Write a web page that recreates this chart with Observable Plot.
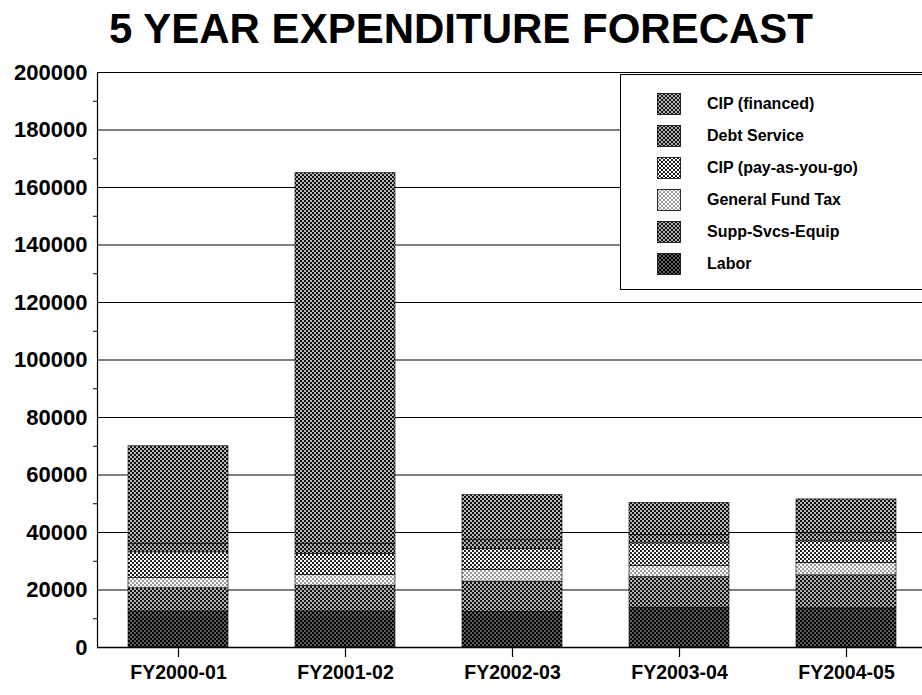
<!DOCTYPE html>
<html>
<head>
<meta charset="utf-8">
<script src="https://cdn.jsdelivr.net/npm/d3@7"></script>
<script src="https://cdn.jsdelivr.net/npm/@observablehq/plot@0.6"></script>
<style>
  html, body { margin: 0; padding: 0; background: #fff; }
  body { width: 922px; height: 695px; position: relative; overflow: hidden; font-family: "Liberation Sans", Arial, sans-serif; }
  #title { height: 58px; box-sizing: border-box; padding-top: 8px; font-size: 42px; line-height: 42px; font-weight: bold; text-align: center; color: #000; }
  #legend { position: absolute; left: 620px; top: 74px; width: 320px; height: 216px; box-sizing: border-box; border: 1.3px solid #000; background: #fff; }
  .item { position: absolute; left: 36px; height: 24px; display: flex; align-items: center; font-size: 16px; font-weight: bold; color: #000; }
  .item svg { margin-right: 26px; }
</style>
</head>
<body>
<div id="title">5 YEAR EXPENDITURE FORECAST</div>
<div id="chart"></div>
<div id="legend"></div>
<script>
const years = ["FY2000-01", "FY2001-02", "FY2002-03", "FY2003-04", "FY2004-05"];
const labor = [12500, 12500, 12400, 13800, 13600];
const suppSvcsEquip = [8100, 9000, 10500, 10700, 11500];
const generalFundTax = [3600, 3800, 4100, 3900, 4300];
const cipPayGo = [8900, 7300, 7300, 7800, 7500];
const debtService = [3000, 3500, 3000, 3000, 3000];
const cipFinanced = [33900, 128900, 15700, 11100, 11600];
const seriesNames = ["Labor", "Supp-Svcs-Equip", "General Fund Tax", "CIP (pay-as-you-go)", "Debt Service", "CIP (financed)"];
const legendOrder = ["CIP (financed)", "Debt Service", "CIP (pay-as-you-go)", "General Fund Tax", "Supp-Svcs-Equip", "Labor"];
const yTicks = [0, 20000, 40000, 60000, 80000, 100000, 120000, 140000, 160000, 180000, 200000];
const yMinorTicks = [10000, 30000, 50000, 70000, 90000, 110000, 130000, 150000, 170000, 190000];

const seriesValues = [labor, suppSvcsEquip, generalFundTax, cipPayGo, debtService, cipFinanced];
const rows = [];
seriesNames.forEach((s, i) => years.forEach((y, j) => rows.push({year: y, series: s, value: seriesValues[i][j]})));

// pattern definitions (dithered look)
const patterns = {
  "Labor": {id: "pLabor", bg: "#000", fg: "#fff", r: 0.7},
  "Supp-Svcs-Equip": {id: "pSupp", bg: "#111", fg: "#fff", r: 0.9},
  "General Fund Tax": {id: "pGft", bg: "#fff", fg: "#000", r: 0.75},
  "CIP (pay-as-you-go)": {id: "pPay", bg: "#fff", fg: "#000", r: 1.1},
  "Debt Service": {id: "pDebt", bg: "#111", fg: "#fff", r: 0.9},
  "CIP (financed)": {id: "pFin", bg: "#111", fg: "#fff", r: 0.95}
};
function defsMarkup() {
  return Object.values(patterns).map(p =>
    `<pattern id="${p.id}" width="4" height="4" patternUnits="userSpaceOnUse">` +
    `<rect width="4" height="4" fill="${p.bg}"/>` +
    `<circle cx="1" cy="1" r="${p.r}" fill="${p.fg}"/>` +
    `<circle cx="3" cy="3" r="${p.r}" fill="${p.fg}"/></pattern>`).join("");
}

const chart = Plot.plot({
  width: 922,
  height: 637,
  marginTop: 14,
  marginBottom: 48,
  marginLeft: 97,
  marginRight: 0,
  style: {fontFamily: "'Liberation Sans', Arial, sans-serif", color: "#000", background: "#fff"},
  x: {domain: years, range: [93, 931], paddingInner: 0.4, paddingOuter: 0.2, label: null},
  y: {domain: [0, 200000], label: null},
  color: {domain: seriesNames, range: seriesNames.map(s => `url(#${patterns[s].id})`)},
  marks: [
    Plot.gridY(yTicks, {stroke: "#000", strokeOpacity: 1, strokeWidth: 1.2}),
    Plot.axisY(yTicks, {tickSize: 0, tickPadding: 10, fontSize: 22, fontWeight: "bold", tickFormat: d3.format("d"), label: null}),
    Plot.axisY(yMinorTicks, {tickSize: 4, text: null, label: null, strokeWidth: 1}),
    Plot.barY(rows, Plot.stackY({x: "year", y: "value", fill: "series", stroke: "#000", strokeWidth: 0.6})),
    Plot.axisX({tickSize: 10, tickPadding: 8, fontSize: 19.5, fontWeight: "bold", label: null, strokeWidth: 1.2}),
    Plot.frame({anchor: "left", strokeWidth: 1.2}),
    Plot.ruleY([0], {strokeWidth: 1.4})
  ]
});
const defs = document.createElementNS("http://www.w3.org/2000/svg", "defs");
defs.innerHTML = defsMarkup();
chart.insertBefore(defs, chart.firstChild);
document.getElementById("chart").appendChild(chart);

const legend = document.getElementById("legend");
legendOrder.forEach((s, i) => {
  const div = document.createElement("div");
  div.className = "item";
  div.style.top = (17 + i * 32) + "px";
  div.innerHTML = `<svg width="24" height="22"><rect x="0.5" y="0.5" width="23" height="21" fill="url(#${patterns[s].id})" stroke="#000" stroke-width="0.8"/></svg><span>${s}</span>`;
  legend.appendChild(div);
});
</script>
</body>
</html>
